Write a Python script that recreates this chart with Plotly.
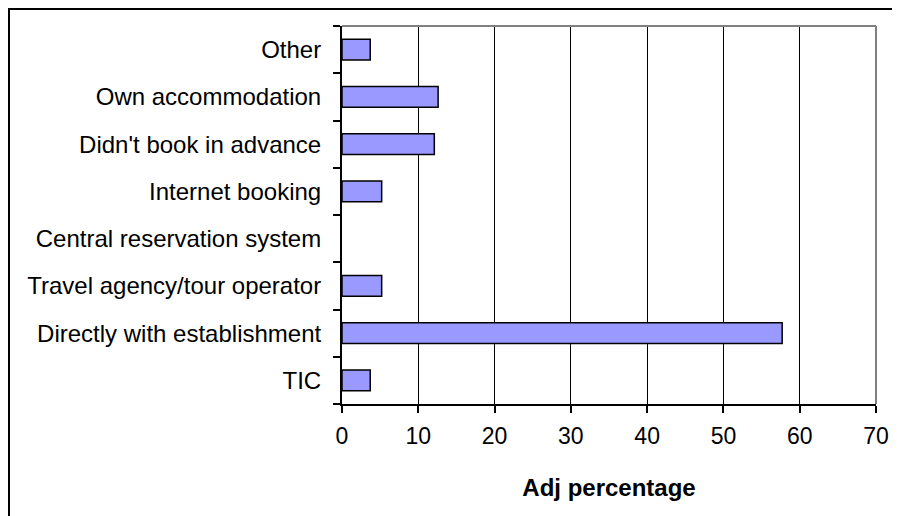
import plotly.graph_objects as go

# categories listed bottom -> top (plotly puts the first category at the bottom)
categories = [
    "TIC",
    "Directly with establishment",
    "Travel agency/tour operator",
    "Central reservation system",
    "Internet booking",
    "Didn't book in advance",
    "Own accommodation",
    "Other",
]
adj_pct = [3.7, 57.7, 5.2, 0, 5.2, 12.1, 12.6, 3.7]
x_ticks = [0, 10, 20, 30, 40, 50, 60, 70]

FONT = "Liberation Sans, Arial, sans-serif"
BAR = "#9999FF"
GREY = "#808080"

fig = go.Figure()
fig.add_trace(go.Bar(
    y=categories, x=adj_pct, orientation="h",
    # no outline on empty bars, Excel draws nothing there
    marker=dict(color=BAR, line=dict(color="black",
                                     width=[0 if v == 0 else 1.5 for v in adj_pct])),
    hoverinfo="x+y",
))

# the page body adds an 8px offset, so the figure is 8px smaller on each axis
# plot area in page pixels: x 342-876, y 26-396
OFF = 8
W, H = 900 - OFF, 516 - OFF
L, R, T, B = 342 - OFF, 24, 26 - OFF, 120 - OFF
pw, ph = W - L - R, H - T - B


def px_x(p):
    return (p - L) / pw


def px_y(p):
    return (H - B - p) / ph


# grey plot-area border on top and right (Excel style)
fig.add_shape(type="line", xref="paper", yref="paper", x0=0, x1=1, y0=1, y1=1,
              line=dict(color=GREY, width=2))
fig.add_shape(type="line", xref="paper", yref="paper", x0=1, x1=1, y0=0, y1=1,
              line=dict(color=GREY, width=2))

# outer chart frame (runs off the right and bottom edges)
fig.add_shape(type="rect", xref="paper", yref="paper",
              x0=px_x(1), x1=px_x(W + 4), y0=px_y(1), y1=px_y(H + 6),
              line=dict(color="black", width=2))

fig.update_layout(
    width=W, height=H,
    margin=dict(l=L, r=R, t=T, b=B, autoexpand=False),
    paper_bgcolor="white", plot_bgcolor="white",
    font=dict(family=FONT, size=23, color="black"),
    bargap=0.56,
    showlegend=False,
    xaxis=dict(
        range=[0, 70], tickvals=x_ticks, ticktext=[str(v) for v in x_ticks],
        showgrid=True, gridcolor="black", gridwidth=1.3,
        showline=True, linecolor="black", linewidth=2,
        ticks="outside", ticklen=7, tickcolor="black", tickwidth=2,
        zeroline=False, automargin=False,
        title=dict(text="<b>Adj percentage</b>", font=dict(size=24), standoff=32),
        tickfont=dict(size=23), ticklabelstandoff=3,
    ),
    yaxis=dict(
        showline=True, linecolor="black", linewidth=2,
        ticks="outside", ticklen=7, tickcolor="black", tickwidth=2,
        tickson="boundaries", showgrid=False, automargin=False,
        tickfont=dict(size=24), ticklabelstandoff=14,
    ),
)

fig.write_html("out.html")
